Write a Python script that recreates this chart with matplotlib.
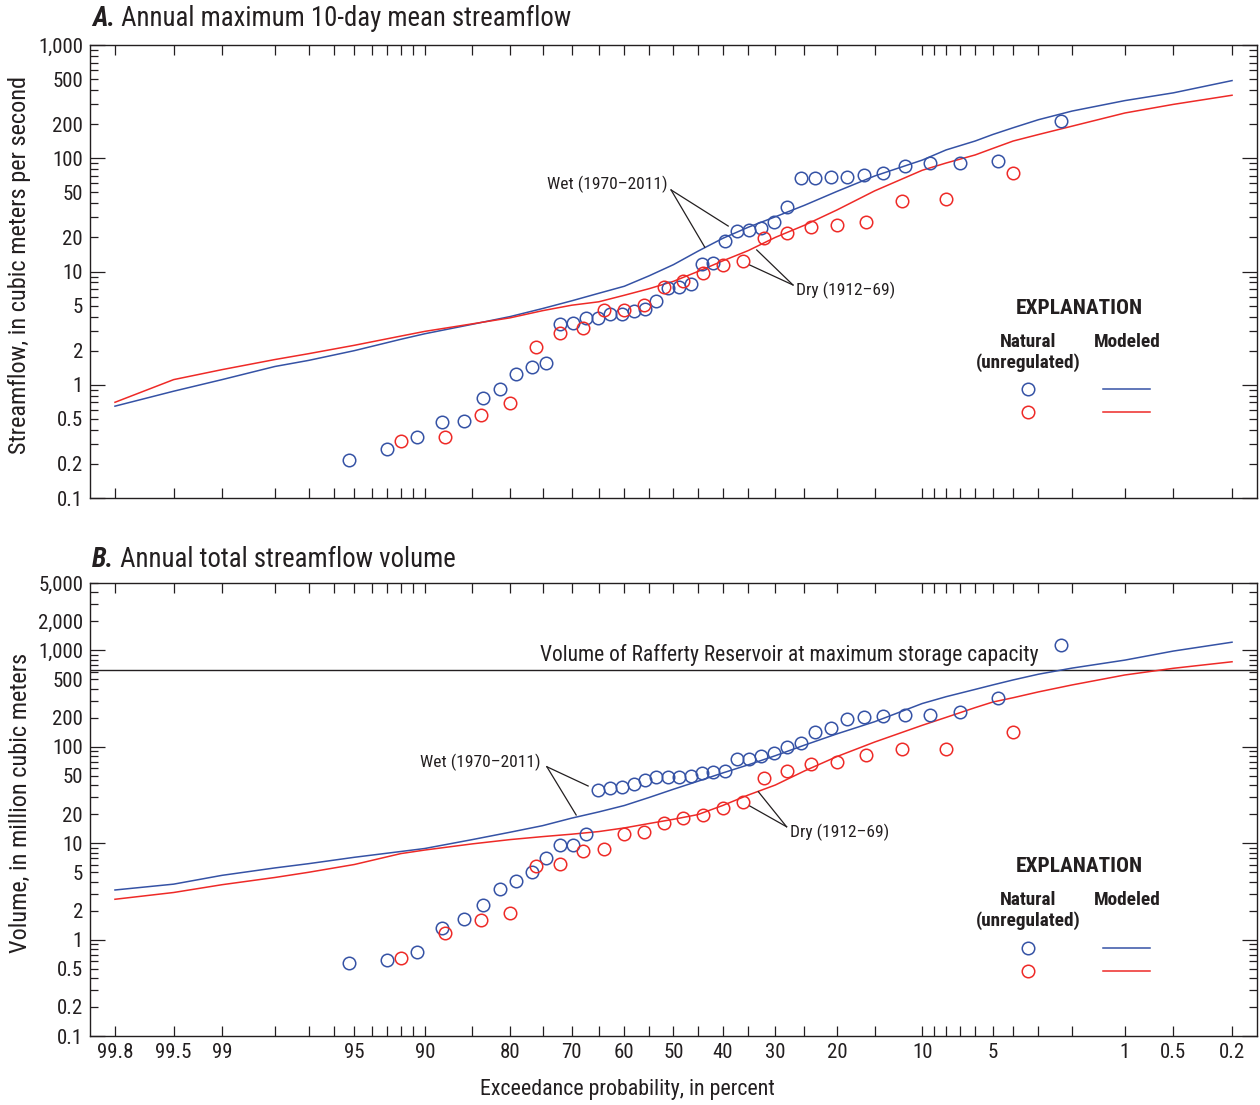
import os
import numpy as np
import matplotlib
matplotlib.use('Agg')
import matplotlib.pyplot as plt
from matplotlib import font_manager as fm
from matplotlib.ticker import FixedLocator, FuncFormatter, LogLocator, NullFormatter
from statistics import NormalDist

# ---------------- font choice (condensed face if installed) ----------------
_cands = []
for f in fm.fontManager.ttflist:
    fn = os.path.basename(f.fname).lower()
    if ('narrow' in fn or 'condensed' in fn or 'cond' in fn) and f.style == 'normal':
        _cands.append(f.name)
_pref = ['Liberation Sans Narrow', 'Roboto Condensed', 'Open Sans Condensed',
         'DejaVu Sans Condensed', 'Noto Sans Condensed', 'DejaVu Sans']
FAM = None
for p in _pref:
    if p in _cands:
        FAM = p
        break
if FAM is None and _cands:
    FAM = _cands[0]
if FAM is None:
    FAM = 'Liberation Sans'
    SCALE = 0.9
else:
    SCALE = 1.0
plt.rcParams['font.family'] = [FAM, 'DejaVu Sans']
plt.rcParams['font.stretch'] = 'condensed'

# ---------------- data ----------------
# exceedance probability (percent) of modeled curves
model_exc = [99.8, 99.5, 99, 98, 97, 95, 92, 90, 85, 80, 75, 70, 65, 60, 55, 50,
             45, 40, 35, 30, 25, 20, 15, 10, 8, 6, 5, 4, 3, 2, 1, 0.5, 0.2]
# Panel A: annual maximum 10-day mean streamflow (m3/s), modeled
wet_model_A = [0.647, 0.877, 1.11, 1.45, 1.64, 2.0, 2.52, 2.82, 3.42, 4.0, 4.71, 5.51,
               6.42, 7.41, 9.16, 11.5, 15.1, 19.6, 24.6, 30.4, 38.4, 50.9, 69.7, 96.3,
               118.5, 142, 162, 186, 219, 261, 323, 378, 485]
dry_model_A = [0.70, 1.11, 1.36, 1.67, 1.88, 2.23, 2.69, 2.96, 3.45, 3.90, 4.51, 5.04,
               5.40, 6.17, 7.05, 8.19, 10.0, 12.4, 15.3, 20.0, 25.6, 34.9, 51.5, 78.3,
               90.8, 107, 122, 142, 162, 192, 251, 299, 360]
# Panel B: annual total streamflow volume (million m3), modeled
wet_model_B = [3.27, 3.76, 4.64, 5.54, 6.13, 7.14, 8.20, 8.81, 10.9, 13.0, 15.2, 18.2,
               21.1, 24.6, 29.8, 36.3, 43.9, 53.5, 65.0, 80.8, 104, 136, 182, 281,
               331, 394, 438, 494, 566, 655, 793, 984, 1216]
dry_model_B = [2.62, 3.08, 3.71, 4.41, 4.99, 6.01, 7.80, 8.49, 9.84, 10.9, 11.7, 12.4,
               13.2, 14.4, 16.0, 17.7, 19.8, 24.6, 31.6, 40.1, 56.1, 79.1, 112, 167,
               202, 255, 291, 323, 371, 438, 556, 652, 762]

# natural (unregulated) observations, wet period 1970-2011
wet_exc = [2.3, 4.7, 7.0, 9.3, 11.6, 14.0, 16.3, 18.6, 20.9, 23.3, 25.6, 27.9, 30.2,
           32.6, 34.9, 37.2, 39.5, 41.9, 44.2, 46.5, 48.8, 51.2, 53.5, 55.8, 58.1,
           60.5, 62.8, 65.1, 67.4, 69.8, 72.1, 74.4, 76.7, 79.1, 81.4, 83.7, 86.0,
           88.4, 90.7, 93.0, 95.3]
wet_obs_A = [215, 95.1, 91.3, 91.3, 85.4, 73.6, 70.7, 68.3, 68.0, 66.5, 66.5, 37.3,
             27.5, 24.4, 23.2, 22.9, 18.5, 11.8, 11.7, 7.71, 7.34, 7.11, 5.52, 4.64,
             4.45, 4.21, 4.19, 3.91, 3.87, 3.49, 3.42, 1.57, 1.44, 1.24, 0.917, 0.759,
             0.479, 0.469, 0.346, 0.271, 0.217]
wet_obs_B = [1130, 318, 230, 214, 212, 209, 202, 193, 157, 143, 110, 100, 86.8, 80.9,
             74.7, 74.7, 56.1, 54.7, 53.8, 49.8, 48.9, 48.9, 48.9, 45.2, 41.1, 37.9,
             37.0, 35.6, 12.4, 9.5, 9.5, 7.07, 5.06, 4.08, 3.35, 2.27, 1.64, 1.31,
             0.748, 0.614, 0.575]
# natural (unregulated) observations, dry period 1912-69
dry_exc = [4, 8, 12, 16, 20, 24, 28, 32, 36, 40, 44, 48, 52, 56, 60, 64, 68, 72, 76,
           80, 84, 88, 92]
dry_obs_A = [73.6, 43.4, 41.7, 27.2, 25.6, 24.5, 22.0, 19.9, 12.5, 11.4, 9.65, 8.24,
             7.34, 5.06, 4.60, 4.57, 3.19, 2.88, 2.14, 0.695, 0.54, 0.346, 0.318]
dry_obs_B = [141, 94.2, 94.2, 82.8, 69.5, 65.8, 56.7, 47.1, 26.5, 23.3, 19.6, 18.1,
             16.3, 13.1, 12.4, 8.7, 8.36, 6.04, 5.8, 1.90, 1.60, 1.16, 0.649]

reservoir_capacity = 625  # million m3

x_labeled = [99.8, 99.5, 99, 95, 90, 80, 70, 60, 50, 40, 30, 20, 10, 5, 1, 0.5, 0.2]
x_minor = [98, 97, 96, 94, 93, 92, 91, 85, 75, 65, 55, 45, 35, 25, 15, 9, 8, 7, 6, 4, 3, 2]

BLUE = '#3552a5'
RED = '#ee2a27'
INK = '#231f20'

# ---------------- probability scale (increasing in exceedance; axis inverted) ----------------
_nd = NormalDist()
_ppf = np.vectorize(_nd.inv_cdf, otypes=[float])
_cdf = np.vectorize(_nd.cdf, otypes=[float])


def fwd(p):
    p = np.asarray(p, dtype=float)
    q = np.clip(p / 100.0, 1e-9, 1 - 1e-9)
    return _ppf(q)


def inv(z):
    z = np.asarray(z, dtype=float)
    return 100.0 * _cdf(z)


W, H = 1260, 1105
fig = plt.figure(figsize=(W / 100, H / 100), dpi=100)


def px_axes(x0, y0, x1, y1):
    return fig.add_axes([x0 / W, 1 - y1 / H, (x1 - x0) / W, (y1 - y0) / H])


axA = px_axes(90, 45, 1257, 498)
axB = px_axes(90, 583, 1257, 1036)

FS = 15.0 * SCALE     # tick labels
FY = 17.5 * SCALE     # y-axis titles
FX = 15.8 * SCALE     # x-axis title
FT = 19.3 * SCALE     # panel titles
FA = 12.5 * SCALE     # wet/dry annotations
FR = 15.5 * SCALE     # reservoir note


def ylab_minor(v, pos):
    m = v / 10 ** np.floor(np.log10(v) + 1e-9)
    if abs(m - 2) < 1e-6 or abs(m - 5) < 1e-6:
        return f'{v:,.0f}' if v >= 1 else f'{v:g}'
    return ''


def ylab_major(v, pos):
    return f'{v:,.0f}' if v >= 1 else f'{v:g}'


for ax, ymax in ((axA, 1000), (axB, 5000)):
    ax.set_xscale('function', functions=(fwd, inv))
    ax.set_yscale('log')
    ax.set_xlim(99.868, 0.132)
    ax.set_ylim(0.1, ymax)
    ax.xaxis.set_major_locator(FixedLocator(x_labeled))
    ax.xaxis.set_minor_locator(FixedLocator(x_minor))
    ax.xaxis.set_major_formatter(FuncFormatter(lambda v, p: f'{v:g}'))
    ax.xaxis.set_minor_formatter(NullFormatter())
    ax.yaxis.set_major_locator(LogLocator(base=10, numticks=20))
    ax.yaxis.set_minor_locator(LogLocator(base=10, subs=np.arange(2, 10), numticks=30))
    ax.yaxis.set_major_formatter(FuncFormatter(ylab_major))
    ax.yaxis.set_minor_formatter(FuncFormatter(ylab_minor))
    ax.tick_params(axis='x', which='both', direction='in', top=True, bottom=True,
                   length=7.2, width=0.9, color=INK, labelsize=FS, pad=5,
                   labelcolor=INK)
    ax.tick_params(axis='y', which='major', direction='in', left=True, right=True,
                   length=10.5, width=0.9, color=INK, labelsize=FS, pad=5,
                   labelcolor=INK)
    ax.tick_params(axis='y', which='minor', direction='in', left=True, right=True,
                   length=5.8, width=0.9, color=INK, labelsize=FS, pad=5,
                   labelcolor=INK)
    for s in ax.spines.values():
        s.set_color(INK)
        s.set_linewidth(1.0)

axA.tick_params(axis='x', which='both', labelbottom=False)

mk = dict(marker='o', ms=9, mfc='none', mew=1.1, ls='none')

# Panel A
axA.plot(model_exc, wet_model_A, color=BLUE, lw=1.1)
axA.plot(model_exc, dry_model_A, color=RED, lw=1.1)
axA.plot(wet_exc, wet_obs_A, mec=BLUE, **mk)
axA.plot(dry_exc, dry_obs_A, mec=RED, **mk)

# Panel B
axB.axhline(reservoir_capacity, color=INK, lw=1.0)
axB.plot(model_exc, wet_model_B, color=BLUE, lw=1.1)
axB.plot(model_exc, dry_model_B, color=RED, lw=1.1)
axB.plot(wet_exc, wet_obs_B, mec=BLUE, **mk)
axB.plot(dry_exc, dry_obs_B, mec=RED, **mk)
axB.text(3.0, 900, 'Volume of Rafferty Reservoir at maximum storage capacity',
         ha='right', va='center', fontsize=FR, color=INK)

# Annotations
lp = dict(color=INK, lw=0.9)
# A wet
axA.text(51.3, 59, 'Wet (1970\u20132011)', ha='right', va='center', fontsize=FA, color=INK)
axA.plot([50.5, 38.9], [52.5, 25.2], **lp)
axA.plot([50.5, 43.6], [52.5, 16.4], **lp)
# A dry
axA.text(26.4, 6.87, 'Dry (1912\u201369)', ha='left', va='center', fontsize=FA, color=INK)
axA.plot([26.9, 34.7], [7.6, 11.4], **lp)
axA.plot([26.9, 33.4], [7.6, 15.5], **lp)
# B wet
axB.text(75.3, 69.5, 'Wet (1970\u20132011)', ha='right', va='center', fontsize=FA, color=INK)
axB.plot([74.3, 67.0], [62.1, 39.2], **lp)
axB.plot([74.3, 69.2], [62.1, 19.6], **lp)
# B dry
axB.text(27.4, 13.1, 'Dry (1912\u201369)', ha='left', va='center', fontsize=FA, color=INK)
axB.plot([28.0, 34.7], [14.8, 24.3], **lp)
axB.plot([28.0, 33.1], [14.8, 34.2], **lp)

# Legends (explanation blocks)
for ax, ys in ((axA, (0.419, 0.344, 0.298, 0.241, 0.190)),
               (axB, (0.375, 0.300, 0.254, 0.194, 0.143))):
    t = ax.transAxes
    ax.text(0.848, ys[0], 'EXPLANATION', transform=t, ha='center', va='center',
            fontsize=15.4 * SCALE, fontweight='bold', color=INK)
    ax.text(0.804, ys[1], 'Natural', transform=t, ha='center', va='center',
            fontsize=13.9 * SCALE, fontweight='bold', color=INK)
    ax.text(0.804, ys[2], '(unregulated)', transform=t, ha='center', va='center',
            fontsize=13.9 * SCALE, fontweight='bold', color=INK)
    ax.text(0.889, ys[1], 'Modeled', transform=t, ha='center', va='center',
            fontsize=13.9 * SCALE, fontweight='bold', color=INK)
    ax.plot([0.804], [ys[3]], transform=t, mec=BLUE, clip_on=False, **mk)
    ax.plot([0.804], [ys[4]], transform=t, mec=RED, clip_on=False, **mk)
    ax.plot([0.868, 0.908], [ys[3], ys[3]], transform=t, color=BLUE, lw=1.1)
    ax.plot([0.868, 0.908], [ys[4], ys[4]], transform=t, color=RED, lw=1.1)


# Titles
def panel_title(y_px, letter, text):
    t1 = fig.text(92 / W, 1 - y_px / H, letter, fontsize=FT, fontweight='bold',
                  fontstyle='italic', ha='left', va='baseline', color=INK)
    axA.annotate(text, xy=(1, 0), xycoords=t1, ha='left', va='bottom',
                 fontsize=FT, color=INK, annotation_clip=False)


panel_title(26, 'A.', ' Annual maximum 10-day mean streamflow')
panel_title(567, 'B.', ' Annual total streamflow volume')

# Axis labels
fig.text(20 / W, 1 - 265 / H, 'Streamflow, in cubic meters per second', rotation=90,
         ha='center', va='center', fontsize=FY, color=INK)
fig.text(20 / W, 1 - 803 / H, 'Volume, in million cubic meters', rotation=90,
         ha='center', va='center', fontsize=FY, color=INK)
fig.text(627 / W, 1 - 1090 / H, 'Exceedance probability, in percent',
         ha='center', va='center', fontsize=FX, color=INK)

fig.savefig('out.png', dpi=100)
